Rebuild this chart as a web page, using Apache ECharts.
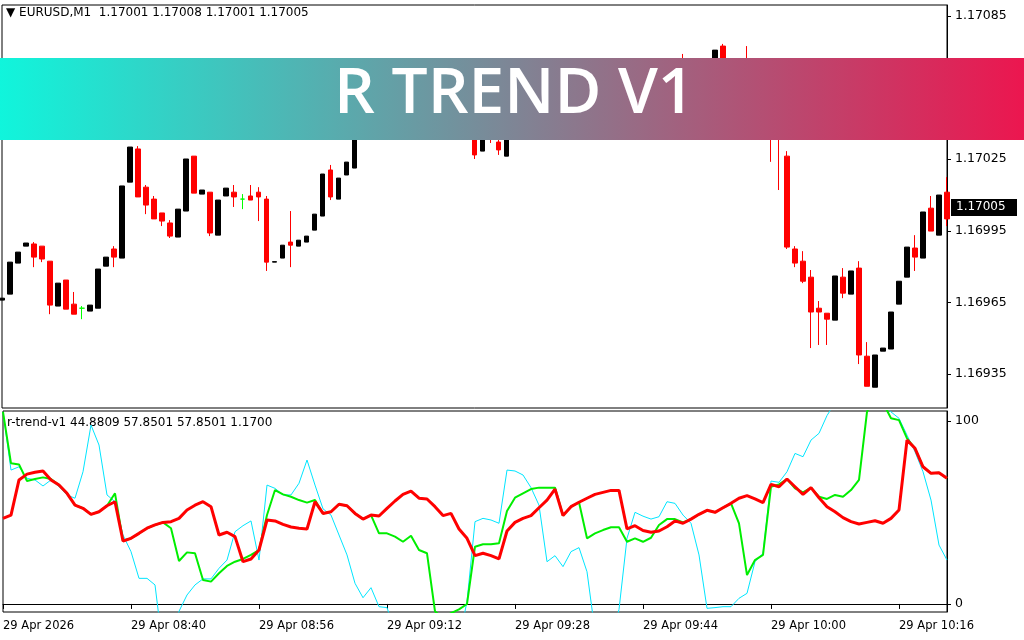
<!DOCTYPE html>
<html>
<head>
<meta charset="utf-8">
<script src="https://cdn.jsdelivr.net/npm/echarts@6/dist/echarts.min.js"></script>
<style>
  html, body { margin: 0; padding: 0; background: #fff; }
  #main { width: 1024px; height: 640px; }
</style>
</head>
<body>
<div id="main"></div>
<script>
// EURUSD M1, prices written as points above 1.16900
var base = 1.169;
var times = [];
for (var i = 0; i < 119; i++) {
  var m = 8 * 60 + 24 + i;
  times.push(('0' + Math.floor(m / 60)).slice(-2) + ':' + ('0' + (m % 60)).slice(-2));
}
var opens = [66.0,68.5,81.5,88.6,89.5,88.6,82.3,63.5,74.4,64.3,62.6,61.4,62.6,80.2,87.4,83.6,115.4,129.3,113.3,108.3,102.5,98.3,92.4,103.3,126.3,110.4,111.2,93.2,109.6,111.2,108.3,109.6,111.2,108.3,81.9,83.6,90.3,88.6,90.3,95.3,101.2,120.5,108.3,118.4,121.3,
  138,147,153,150,158,155,160,152,149,155,150,145,148,143,
  137,128.4,137,132.2,126.3,
  138,142,140,146,144,150,147,143,148,153,150,155,152,157,154,158,155,160,157,161,158,162,159,163,160,164,172.4,164,160,163,158,150,
  146,138,126.3,87.4,82.3,75.6,62.6,60.5,57.6,75.6,68.5,79.4,42.5,29.5,44.6,45.5,64.3,75.6,87.8,83.6,104.5,93.2,111.2];
var closes = [66.8,81.9,86.1,89.9,84.0,83.2,63.9,73.1,62.2,60.1,62.6,63.9,79.0,84.0,84.0,113.8,130.1,109.2,105.8,100.0,99.1,92.8,104.1,125.1,110.8,112.1,94.1,107.9,112.9,109.2,108.3,107.9,109.2,81.9,82.1,89.0,89.0,91.1,92.8,102.0,118.8,109.2,117.1,123.8,138,
  147,153,150,158,155,160,152,149,155,150,145,148,143,137,
  126.8,136,135,128.9,138,
  142,140,146,144,150,147,143,148,153,150,155,152,157,154,158,155,160,157,161,158,162,159,163,160,164,170.7,164,160,163,158,150,146,
  138,133.9,88.2,81.5,73.9,61.0,61.0,58.0,76.1,68.9,78.2,43.0,29.9,43.0,45.9,61.0,73.9,88.2,84.0,102.9,94.9,110.0,100.0];
var lows = [66.0,68.5,81.5,88.6,79.8,81.9,60.1,63.5,62.2,60.1,58.0,61.4,62.6,80.2,79.8,83.6,115.4,109.2,102.0,100.0,97.0,92.0,92.4,103.3,110.8,110.4,92.8,93.2,109.6,105.0,104.1,107.9,99.1,78.2,81.9,83.6,79.8,88.6,90.3,95.3,101.2,107.9,108.3,118.4,121.3,
  136,145,148,149,152,153,150,146,147,148,143,141,140,135,
  125.1,128.4,131.8,126.8,126.3,
  136,137,139,141,143,145,141,142,146,148,149,150,151,152,152,153,154,155,156,156,157,157,158,158,159,162,162,158,157,155,146,140,
  123.9,112.1,87.4,79.8,73.1,45.9,47.2,47.2,57.6,66.8,68.5,39.2,29.9,29.5,44.6,45.5,64.3,75.6,78.2,83.6,94.9,93.2,97.0];
var highs = [66.8,81.9,86.1,89.9,90.3,88.6,82.3,73.1,74.4,69.4,63.5,63.9,79.0,84.0,88.6,113.8,130.1,130.5,114.2,109.6,102.5,99.5,104.1,125.1,126.3,112.1,111.2,107.9,112.9,114.2,110.4,114.2,113.3,109.6,82.1,89.0,103.3,91.1,92.8,102.0,118.8,122.6,117.1,123.8,138,
  149,156,157,160,161,163,162,155,157,158,152,150,150,147,
  139,137,139,136,139,
  144,145,148,149,152,153,149,150,155,156,157,158,159,160,161,160,162,163,164,164,165,169.1,165,166,166,170.7,173.3,166,165,172.4,160,152,
  148,139,128.4,88.6,86.5,78.6,65.6,60.5,76.1,79.4,78.2,82.3,48.4,43.0,45.9,61.0,73.9,88.2,93.2,102.9,109.6,110.0,117.5];

// r-trend-v1 buffers
var trendRed = [46.8,48.6,67.8,71,72,72.7,67.8,65,60.5,54,52.3,49,50.4,53.7,55.9,34.4,35.9,38.6,41.4,43.2,44.6,45,46.8,51.4,54,55.9,53.2,37.7,39.2,36.8,23.1,24.6,29.5,45.9,45.4,43.5,42.1,41.4,41,55.9,49.5,
  50.4,54.5,53.7,49.5,46.4,48.6,48.1,52.3,56.3,59.9,61.7,57.8,57.4,53.2,48.3,49.5,41,35.9,26.4,27.7,26.4,24.6,39.9,44.6,46.8,48.3,52.6,56.8,62.8,48.3,53.2,55.6,57.8,59.9,61,62.1,62.1,41,42.8,40.2,
  39.2,39.9,42.2,45.4,44.1,46.4,49,51.2,50.1,52.6,55,57.8,59.2,57.4,55.4,65.4,64.1,68.3,64.1,59.9,63.6,58.1,53.2,50.4,47.2,45,43.7,44.6,45.5,44.1,46.8,51.4,89.6,85.1,75,71.4,71.7,68.7];
var trendGreen = [105,76.9,76.3,67.2,68.3,69.2,68.3,65,60.5,54,52.3,49,50.4,53.7,60.5,34.4,35.9,38.6,41.4,43.2,44.6,41.4,23.5,28.2,27.7,13.1,12.2,16.8,20.8,23.1,24.6,26.8,29.5,48.6,62.3,59.9,58.6,56.8,55.4,56.8,49.5,
  50.4,54.5,53.7,49.5,46.4,48.6,38.6,38.6,36.8,34,37.3,29.5,27.7,-4,-8,-5,-3,0,31.3,32.6,32.6,33.2,50.8,58.1,60.5,62.8,63.6,63.6,63.6,48.3,53.2,55.6,35.9,38.6,40.4,41.9,41.9,34,35.9,34,
  36.2,43.2,46.4,46.4,44.6,46.4,49,51.2,50.1,52.6,55,44.1,15.8,24,26.8,64.1,65.4,68.3,63.2,61,63.6,58.6,57.4,59.6,58.6,62.3,67.8,105,115,110,101.5,100.5,90.5,85.1,75,71.4,71.7,68.7];
var trendCyan = [105,73.2,75,68.7,67.8,64.5,67.8,64.1,59.6,57.8,72.3,97.8,86.9,59.6,55.9,37.7,28.6,14,14,10.4,-25,-20,-4,4.9,10.4,13.7,13.7,19.5,24,39.5,42.8,45.4,24,65,63.2,59.6,59.6,66,78.7,65,52,
  48.6,37.7,26.8,11.3,3.4,8.9,-1.5,-2,-15,-20,-20,-20,-20,-20,-20,-20,-20,1.3,45,46.8,45.9,44.1,73.2,72.7,70.5,63.6,54,23.1,26.4,20.4,28.6,30.8,17.6,-15,-25,-20,-3,35.9,50.1,48,
  46.4,47.7,55.9,55,48.6,44.1,26.8,-2.4,-2,-1.5,-1.5,3.1,5.8,23.1,27.7,67.2,66.5,72.3,82.3,80.5,89.6,93.3,103,110,108,112,115,118,115,110,105,101.5,92.3,83.2,72.3,56.8,32.2,24];

var priceTicks = [1.16935, 1.16965, 1.16995, 1.17025, 1.17055, 1.17085];
var trendTicks = [0, 100];

var candles = [];
for (var i = 0; i < opens.length; i++) {
  candles.push([base + opens[i] / 1e5, base + closes[i] / 1e5, base + lows[i] / 1e5, base + highs[i] / 1e5]);
}

var font = 'DejaVu Sans';
var chart = echarts.init(document.getElementById('main'));
chart.setOption({
  animation: false,
  backgroundColor: '#ffffff',
  grid: [
    { left: 2, right: 77, top: 5, height: 403, show: true, borderColor: '#000', borderWidth: 1 },
    { left: 2, right: 77, top: 411, bottom: 28, show: true, borderColor: '#000', borderWidth: 1 }
  ],
  xAxis: [
    { type: 'category', gridIndex: 0, data: times, boundaryGap: false, show: false },
    {
      type: 'category', gridIndex: 1, data: times, boundaryGap: false,
      axisLine: { lineStyle: { color: '#000' } },
      axisTick: { length: 5, interval: function (idx) { return idx % 16 === 0; }, lineStyle: { color: '#000' } },
      axisLabel: {
        interval: function (idx) { return idx % 16 === 0; },
        formatter: function (v, idx) { return idx === 0 ? '29 Apr 2026' : '29 Apr ' + v; },
        align: 'left', margin: 8, fontFamily: font, fontSize: 11.5, color: '#000'
      },
      splitLine: { show: false }
    }
  ],
  yAxis: [
    {
      type: 'value', gridIndex: 0, position: 'right', scale: true,
      min: base + 20.8 / 1e5, max: base + 189.6 / 1e5,
      axisLine: { show: true, lineStyle: { color: '#000' } },
      axisTick: { show: true, length: 4, customValues: priceTicks, lineStyle: { color: '#000' } },
      axisLabel: { customValues: priceTicks, formatter: function (v) { return v.toFixed(5); }, margin: 8, fontFamily: font, fontSize: 12.5, color: '#000' },
      splitLine: { show: false }
    },
    {
      type: 'value', gridIndex: 1, position: 'right', min: -4.4, max: 105.5,
      axisLine: { show: true, lineStyle: { color: '#000' } },
      axisTick: { show: true, length: 4, customValues: trendTicks, lineStyle: { color: '#000' } },
      axisLabel: { customValues: trendTicks, margin: 8, fontFamily: font, fontSize: 12.5, color: '#000' },
      splitLine: { show: false }
    }
  ],
  series: [
    {
      type: 'candlestick', xAxisIndex: 0, yAxisIndex: 0, data: candles, barWidth: 5,
      itemStyle: { color: '#000', color0: '#ff0000', borderColor: '#000', borderColor0: '#ff0000', borderColorDoji: '#00ff00', borderWidth: 1 }
    },
    { type: 'line', xAxisIndex: 1, yAxisIndex: 1, data: trendCyan, symbol: 'none', lineStyle: { color: '#00e5ff', width: 1 } },
    { type: 'line', xAxisIndex: 1, yAxisIndex: 1, data: trendGreen, symbol: 'none', lineStyle: { color: '#00ee00', width: 2 } },
    { type: 'line', xAxisIndex: 1, yAxisIndex: 1, data: trendRed, symbol: 'none', lineStyle: { color: '#ff0000', width: 3 } }
  ],
  graphic: [
    { type: 'text', left: 6, top: 7, style: { text: '▼ EURUSD,M1  1.17001 1.17008 1.17001 1.17005', font: '12px "DejaVu Sans"', fill: '#000' } },
    { type: 'text', left: 7, top: 417, style: { text: 'r-trend-v1 44.8809 57.8501 57.8501 1.1700', font: '12px "DejaVu Sans"', fill: '#000' } },
    { type: 'group', left: 951, top: 199, children: [
      { type: 'rect', shape: { x: 0, y: 0, width: 66, height: 17 }, style: { fill: '#000' } },
      { type: 'text', x: 5, y: 2, style: { text: '1.17005', font: '12px "DejaVu Sans"', fill: '#fff' } }
    ] },
    { type: 'rect', left: 0, top: 58, z: 100, shape: { width: 1024, height: 82 },
      style: { fill: new echarts.graphic.LinearGradient(0, 0, 1, 0, [
        { offset: 0, color: '#10f5dc' }, { offset: 1, color: '#ec164f' }
      ]) } },
    { type: 'text', z: 101, left: 334, top: 63, style: { text: 'R TREND V1', font: '600 64px "Open Sans"', fill: '#fff' } }
  ]
});
</script>
</body>
</html>
